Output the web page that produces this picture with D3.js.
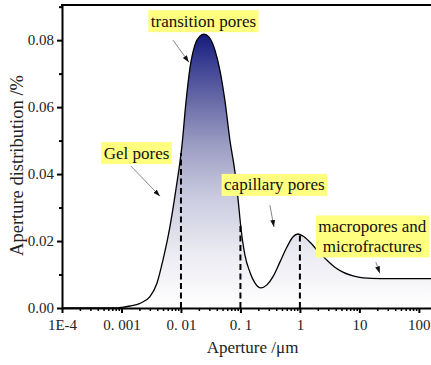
<!DOCTYPE html>
<html>
<head>
<meta charset="utf-8">
<script src="https://cdn.jsdelivr.net/npm/d3@7/dist/d3.min.js"></script>
<style>
  html, body { margin: 0; padding: 0; background: #fff; }
  svg { display: block; font-family: "Liberation Serif", "Times New Roman", serif; }
</style>
</head>
<body>
<svg id="chart" width="431" height="365"></svg>
<script>
// Pore-size distribution curve (aperture in μm, distribution in %)
const aperture = [1e-4, 0.000436, 0.000778, 0.00102, 0.00139, 0.00205, 0.00301, 0.00395, 0.00498,
  0.00653, 0.00824, 0.0104, 0.0121, 0.0142, 0.0172, 0.0208, 0.0244, 0.0296, 0.0373, 0.0452,
  0.0548, 0.0667, 0.0809, 0.0908, 0.102, 0.119, 0.1445, 0.175, 0.221, 0.279, 0.351, 0.461, 0.605,
  0.762, 0.925, 1.12, 1.47, 2.01, 2.84, 3.87, 5.28, 7.78, 11.5, 22.1, 160];
const distribution = [0, 0, 0, 0.0002, 0.0006, 0.0014, 0.0034, 0.0074, 0.0143,
  0.0243, 0.0355, 0.0485, 0.0612, 0.0718, 0.0786, 0.0812, 0.0818, 0.0809, 0.077, 0.071,
  0.062, 0.050, 0.0406, 0.0328, 0.0239, 0.0158, 0.0107, 0.0075, 0.006, 0.0069, 0.0093, 0.0137, 0.0182,
  0.0212, 0.0221, 0.0215, 0.0197, 0.017, 0.0143, 0.0122, 0.0107, 0.0096, 0.009, 0.0088, 0.0088];

// Boundaries between pore classes (dashed guides)
const boundaries = [0.01, 0.1, 1];

// Axis ticks
const xTickValues = [1e-4, 1e-3, 1e-2, 1e-1, 1, 10, 100];
const xTickLabels = ["1E-4", "0. 001", "0. 01", "0. 1", "1", "10", "100"];
const yTickValues = [0, 0.02, 0.04, 0.06, 0.08];
const yMinorValues = [0.01, 0.03, 0.05, 0.07, 0.09];

// Pore-class annotations: label centre and arrow (from -> to), in data units
const noteText = [["transition pores"], ["Gel pores"], ["capillary pores"], ["macropores and", "microfractures"]];
const noteAt = [[0.0239, 0.0858], [0.00179, 0.0464], [0.372, 0.0369], [16.5, 0.0215]];
const arrowFrom = [[0.00735, 0.0800], [0.00144, 0.0424], [0.313, 0.0307], [18.9, 0.0137]];
const arrowTo = [[0.0136, 0.0734], [0.00443, 0.0334], [0.366, 0.0242], [22.1, 0.0104]];

const svg = d3.select("#chart");
const mLeft = 62, mRight = 431, mTop = 5, mBottom = 308;

const x = d3.scaleLog().domain([1e-4, 160]).range([mLeft, mRight]);
const y = d3.scaleLinear().domain([0, 0.0905]).range([mBottom, mTop]);

const pts = aperture.map((a, i) => [a, distribution[i]]);

const defs = svg.append("defs");
defs.append("clipPath").attr("id", "plot-clip")
  .append("rect").attr("x", mLeft).attr("y", mTop).attr("width", mRight - mLeft).attr("height", mBottom - mTop);

const peak = d3.max(distribution);
const grad = defs.append("linearGradient").attr("id", "fill-grad")
  .attr("gradientUnits", "userSpaceOnUse")
  .attr("x1", 0).attr("x2", 0).attr("y1", y(peak)).attr("y2", y(0));
[[0, "#151b7b"], [0.1, "#393e91"], [0.25, "#6b6da9"], [0.4, "#9a9cc2"], [0.6, "#cbcce0"], [0.8, "#ebebf2"], [1, "#ffffff"]]
  .forEach(([o, c]) => grad.append("stop").attr("offset", o).attr("stop-color", c));

defs.append("marker").attr("id", "arrowhead")
  .attr("viewBox", "0 0 10 10").attr("refX", 10).attr("refY", 5)
  .attr("markerWidth", 7).attr("markerHeight", 7).attr("markerUnits", "userSpaceOnUse")
  .attr("orient", "auto")
  .append("path").attr("d", "M0,1.5 L10,5 L0,8.5 Z").attr("fill", "#111");

const plot = svg.append("g").attr("clip-path", "url(#plot-clip)");

const area = d3.area().x(d => x(d[0])).y0(y(0)).y1(d => y(d[1])).curve(d3.curveMonotoneX);
const line = d3.line().x(d => x(d[0])).y(d => y(d[1])).curve(d3.curveMonotoneX);

plot.append("path").datum(pts).attr("d", area).attr("fill", "url(#fill-grad)");

// Dashed guides rise from the baseline to the curve
function valueAt(a) {
  const la = Math.log10(a);
  for (let i = 1; i < pts.length; i++) {
    const l0 = Math.log10(pts[i - 1][0]), l1 = Math.log10(pts[i][0]);
    if (la <= l1) {
      const t = (la - l0) / (l1 - l0);
      return pts[i - 1][1] + t * (pts[i][1] - pts[i - 1][1]);
    }
  }
  return pts[pts.length - 1][1];
}
plot.selectAll(".guide").data(boundaries).join("line")
  .attr("x1", d => x(d)).attr("x2", d => x(d))
  .attr("y1", y(0)).attr("y2", d => y(valueAt(d)))
  .attr("stroke", "#000").attr("stroke-width", 2).attr("stroke-dasharray", "6,3.5");

plot.append("path").datum(pts).attr("d", line)
  .attr("fill", "none").attr("stroke", "#000").attr("stroke-width", 1.3);

// Axes
const xMinor = [];
for (let e = -4; e <= 2; e++) for (let m = 2; m <= 9; m++) {
  const v = m * Math.pow(10, e);
  if (v < 160) xMinor.push(v);
}

const serif = "'Liberation Serif', 'Times New Roman', serif";

const xAxis = svg.append("g").attr("transform", `translate(0,${mBottom})`);
xAxis.append("g").call(d3.axisBottom(x).tickValues(xMinor).tickSize(3).tickFormat(""))
  .call(g => g.select(".domain").remove())
  .call(g => g.selectAll("line").attr("stroke-width", 1.5));
xAxis.append("g").call(d3.axisBottom(x).tickValues(xTickValues).tickSize(5).tickSizeOuter(0)
    .tickFormat((d, i) => xTickLabels[i]))
  .call(g => g.select(".domain").attr("stroke-width", 2))
  .call(g => g.selectAll(".tick line").attr("stroke-width", 2))
  .call(g => g.selectAll("text").attr("font-size", 15).attr("fill", "#222").attr("dy", "0.95em")
    .attr("font-family", serif));

const yAxis = svg.append("g").attr("transform", `translate(${mLeft},0)`);
yAxis.append("g").call(d3.axisLeft(y).tickValues(yMinorValues).tickSize(3).tickFormat(""))
  .call(g => g.select(".domain").remove())
  .call(g => g.selectAll("line").attr("stroke-width", 2));
yAxis.append("g").call(d3.axisLeft(y).tickValues(yTickValues).tickSize(5).tickSizeOuter(0)
    .tickFormat(d3.format(".2f")))
  .call(g => g.select(".domain").attr("stroke-width", 2))
  .call(g => g.selectAll(".tick line").attr("stroke-width", 2))
  .call(g => g.selectAll("text").attr("font-size", 15).attr("fill", "#222").attr("x", -8)
    .attr("font-family", serif));

// Top frame line
svg.append("line").attr("x1", mLeft - 1).attr("x2", mRight).attr("y1", mTop).attr("y2", mTop)
  .attr("stroke", "#000").attr("stroke-width", 2);

// Axis titles
svg.append("text").attr("x", (mLeft + mRight) / 2 + 6).attr("y", 353)
  .attr("text-anchor", "middle").attr("font-size", 17).attr("fill", "#222")
  .text("Aperture /μm");
svg.append("text").attr("transform", `translate(23,${(mTop + mBottom) / 2 + 9}) rotate(-90)`)
  .attr("text-anchor", "middle").attr("font-size", 18.5).attr("fill", "#222")
  .text("Aperture distribution /%");

// Annotations
const notes = svg.append("g");
noteText.forEach((lines, i) => {
  const g = notes.append("g");
  const cx = x(noteAt[i][0]), cy = y(noteAt[i][1]);
  const lh = 20;
  const rect = g.append("rect").attr("fill", "#ffff80");
  const t = g.append("text").attr("text-anchor", "middle").attr("font-size", 17).attr("fill", "#111");
  lines.forEach((s, k) => {
    t.append("tspan").attr("x", cx)
      .attr("y", cy + (k - (lines.length - 1) / 2) * lh).attr("dy", "0.35em").text(s);
  });
  const bb = t.node().getBBox();
  rect.attr("x", bb.x - 2.5).attr("y", bb.y - 1.5).attr("width", bb.width + 5).attr("height", bb.height + 3);

  notes.append("line")
    .attr("x1", x(arrowFrom[i][0])).attr("y1", y(arrowFrom[i][1]))
    .attr("x2", x(arrowTo[i][0])).attr("y2", y(arrowTo[i][1]))
    .attr("stroke", "#666").attr("stroke-width", 0.8)
    .attr("marker-end", "url(#arrowhead)");
});
</script>
</body>
</html>
